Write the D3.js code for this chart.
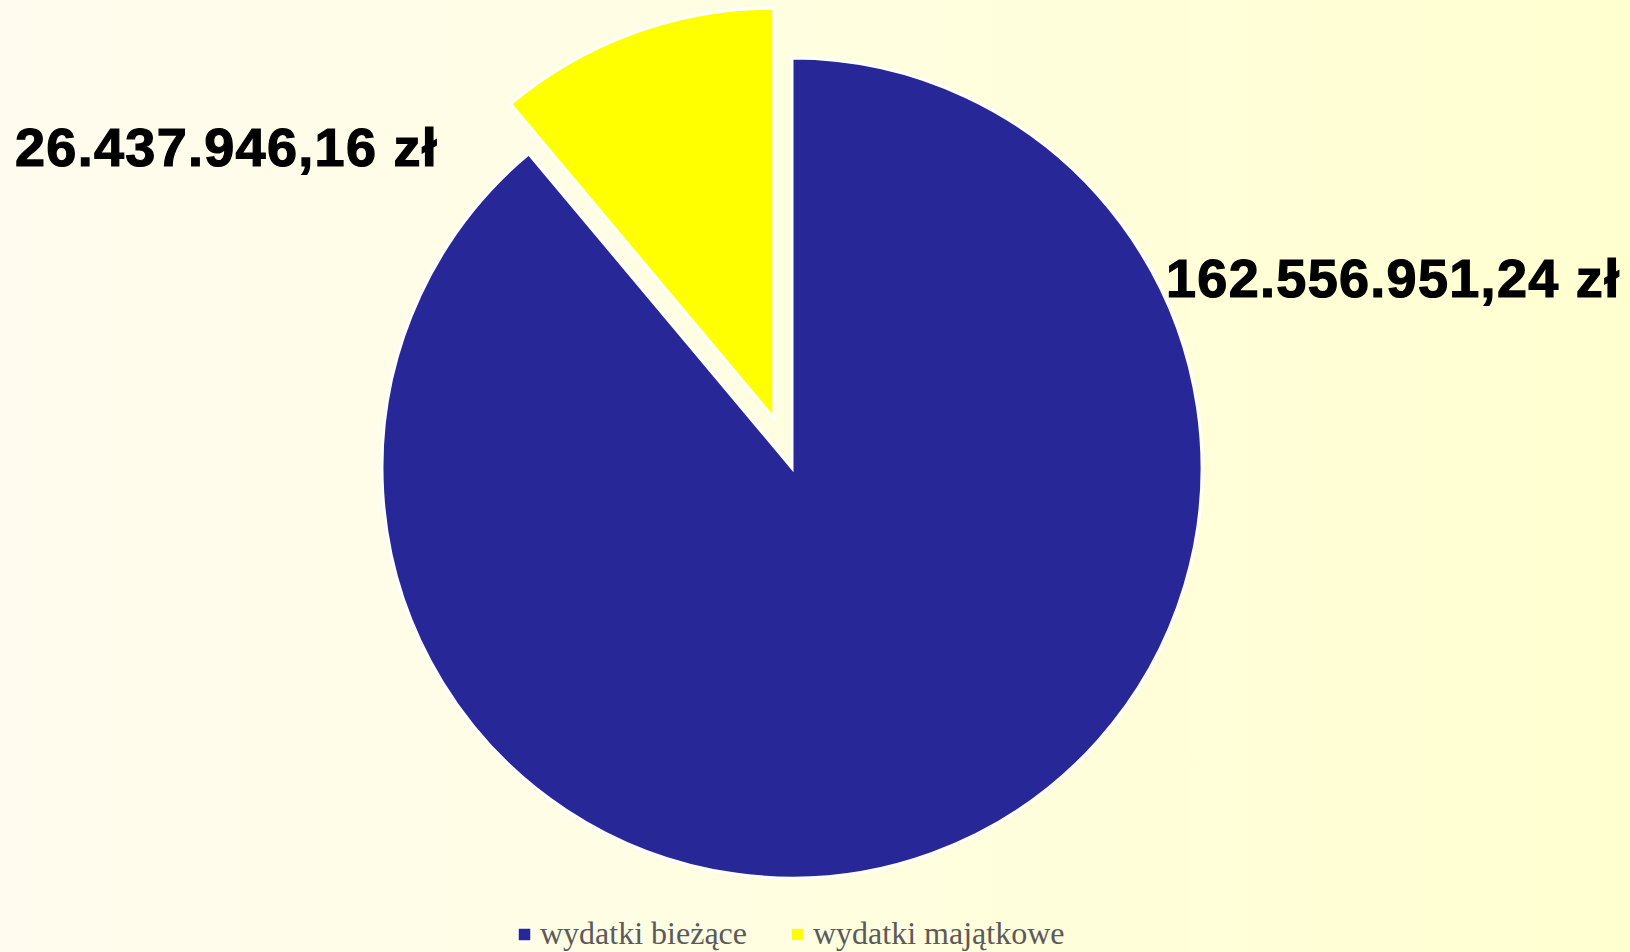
<!DOCTYPE html>
<html><head><meta charset="utf-8">
<script src="https://cdn.jsdelivr.net/npm/d3@7"></script>
<style>html,body{margin:0;padding:0;overflow:hidden;}</style>
</head><body>
<svg id="c" width="1630" height="952"></svg>
<script>
const categories = ["wydatki bieżące", "wydatki majątkowe"];
// slice shares as drawn in the picture (percent)
const shares = [88.9, 11.1];
const valueLabels = ["162.556.951,24 zł", "26.437.946,16 zł"];
const colors = ["#272797", "#FFFF00"];

const W = 1630, H = 952;
const svg = d3.select("#c");
const defs = svg.append("defs");
const grad = defs.append("linearGradient").attr("id","bg").attr("x1","0").attr("x2","1").attr("y1","0").attr("y2","0");
grad.append("stop").attr("offset","0").attr("stop-color","#FFFCEF");
grad.append("stop").attr("offset","1").attr("stop-color","#FFFFD0");
svg.append("rect").attr("width",W).attr("height",H).attr("fill","url(#bg)");

const cx = 792, cy = 468, R = 410, explode = 53;
const data = categories.map((c,i)=>({cat:c, v:shares[i], color:colors[i], label:valueLabels[i]}));
const pie = d3.pie().value(d=>d.v).sort(null);
const arc = d3.arc().innerRadius(0).outerRadius(R);
const arcs = pie(data);

const g = svg.append("g").attr("transform",`translate(${cx},${cy})`);
g.selectAll("path").data(arcs).join("path")
  .attr("d", arc)
  .attr("fill", d=>d.data.color)
  .attr("stroke","#ffffff").attr("stroke-width",3).attr("stroke-linejoin","miter")
  .attr("transform", (d,i)=>{
    if (i===1){
      const a=(d.startAngle+d.endAngle)/2;
      return `translate(${Math.sin(a)*explode},${-Math.cos(a)*explode})`;
    }
    return null;
  });

// value labels
const labelPos = [{x:1166, y:297, anchor:"start"}, {x:15, y:166, anchor:"start"}];
svg.selectAll("text.val").data(arcs).join("text").attr("class","val")
  .attr("x",(d,i)=>labelPos[i].x).attr("y",(d,i)=>labelPos[i].y)
  .attr("text-anchor",(d,i)=>labelPos[i].anchor)
  .attr("font-family","'Liberation Sans', Arial, sans-serif")
  .attr("font-weight","bold").attr("font-size",54).attr("fill","#000")
  .attr("stroke","#000").attr("stroke-width",1.2)
  .attr("letter-spacing",1.3)
  .text(d=>d.data.label);

// legend
const legX = [518, 791];
const leg = svg.selectAll("g.leg").data(data).join("g").attr("class","leg")
  .attr("transform",(d,i)=>`translate(${legX[i]},944)`);
leg.append("rect").attr("x",0).attr("y",-16).attr("width",13).attr("height",13).attr("fill",d=>d.color)
  .attr("stroke","#ffffff").attr("stroke-width",1.5);
leg.append("text").attr("x",22).attr("y",0)
  .attr("font-family","'Liberation Serif','Times New Roman',serif")
  .attr("font-size",32).attr("fill","#5a5a5a").text(d=>d.cat);
</script>
</body></html>
